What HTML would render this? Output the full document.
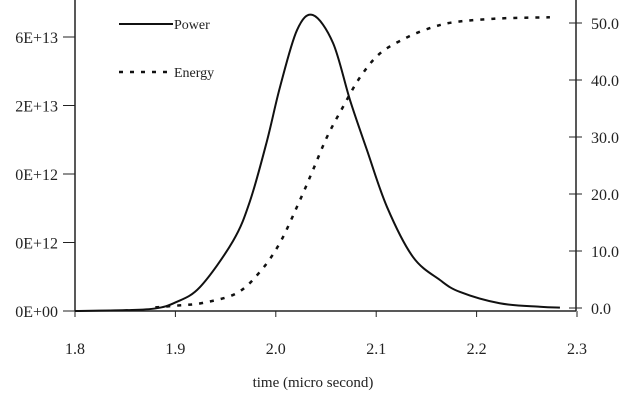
<!DOCTYPE html>
<html><head><meta charset="utf-8"><style>
body{margin:0;background:#fff}
svg text{font-family:"Liberation Serif",serif;fill:#222}
</style></head><body>
<svg id="c" width="640" height="400" viewBox="0 0 640 400" xmlns="http://www.w3.org/2000/svg"></svg>
<script>
const xTicks=[1.8,1.9,2.0,2.1,2.2,2.3];
const xTickLabels=["1.8","1.9","2.0","2.1","2.2","2.3"];
const leftTicks=[0,4,8,12,16];
const leftTickLabels=["0E+00","0E+12","0E+12","2E+13","6E+13"];
const rightTicks=[0,10,20,30,40,50];
const rightTickLabels=["0.0","10.0","20.0","30.0","40.0","50.0"];
const powerT=[1.8,1.85,1.88,1.9,1.9245,1.9574,1.9743,1.9912,2.0042,2.0211,2.037,2.057,2.0739,2.0908,2.1108,2.1367,2.1635,2.1835,2.223,2.263,2.283];
const powerV=[0,0.05,0.15,0.5,1.4,4.09,6.42,9.93,13.08,16.4,17.28,15.65,12.32,9.4,6.07,3.15,1.81,1.11,0.45,0.25,0.2];
const energyT=[1.88,1.9,1.9275,1.961,1.984,2.004,2.024,2.037,2.051,2.067,2.084,2.104,2.131,2.157,2.18,2.223,2.273];
const energyV=[0.1,0.4,0.9,2.6,6.3,11.4,18.9,24.2,30,35.3,40.5,44.7,47.5,49.3,50.2,50.8,51];

const svg=document.getElementById('c');
const NS='http://www.w3.org/2000/svg';
const X=t=>75+(t-1.8)*1004;
const YL=v=>311-v*17.125;
const YR=v=>308-v*5.7;
function mk(tag,attrs,parent){const e=document.createElementNS(NS,tag);for(const k in attrs)e.setAttribute(k,attrs[k]);(parent||svg).appendChild(e);return e;}

let e;
e=mk('line',{x1:75,y1:0,x2:75,y2:311,stroke:'#222','stroke-width':1.5});


e=mk('line',{x1:576,y1:0,x2:576,y2:311,stroke:'#222','stroke-width':1.5});


e=mk('line',{x1:75,y1:311,x2:576,y2:311,stroke:'#222','stroke-width':1.5});



xTicks.forEach((t,i)=>{
  e=mk('line',{x1:X(t),y1:311,x2:X(t),y2:317,stroke:'#222'});
  
  
  e=mk('text',{x:X(t),y:354,'text-anchor':'middle','font-size':16});
  e.textContent=xTickLabels[i];
  
  
});
leftTicks.forEach((v,i)=>{
  e=mk('line',{x1:63,y1:YL(v),x2:75,y2:YL(v),stroke:'#222'});
  
  
  e=mk('text',{x:58,y:YL(v)+6,'text-anchor':'end','font-size':16});
  e.textContent=leftTickLabels[i];
  
  
});
rightTicks.forEach((v,i)=>{
  e=mk('line',{x1:569,y1:YR(v),x2:582,y2:YR(v),stroke:'#222'});
  
  
  e=mk('text',{x:591,y:YR(v)+6,'font-size':16});
  e.textContent=rightTickLabels[i];
  
  
});
e=mk('text',{x:313,y:387,'text-anchor':'middle','font-size':15});
e.textContent='time (micro second)';



function smooth(pts){let d='M'+pts[0][0]+','+pts[0][1];for(let i=0;i<pts.length-1;i++){const p0=pts[i-1]||pts[i],p1=pts[i],p2=pts[i+1],p3=pts[i+2]||p2;d+=' C'+(p1[0]+(p2[0]-p0[0])/6)+','+(p1[1]+(p2[1]-p0[1])/6)+' '+(p2[0]-(p3[0]-p1[0])/6)+','+(p2[1]-(p3[1]-p1[1])/6)+' '+p2[0]+','+p2[1];}return d;}
e=mk('path',{d:smooth(powerT.map((t,i)=>[X(t),YL(powerV[i])])),fill:'none',stroke:'#111','stroke-width':2});


e=mk('path',{d:smooth(energyT.map((t,i)=>[X(t),YR(energyV[i])])),fill:'none',stroke:'#111','stroke-width':2.5,'stroke-dasharray':'4,7'});



e=mk('line',{x1:119,y1:24,x2:173,y2:24,stroke:'#111','stroke-width':2});


e=mk('text',{x:174,y:29,'font-size':14});
e.textContent='Power';


e=mk('line',{x1:119,y1:72,x2:173,y2:72,stroke:'#111','stroke-width':2.5,'stroke-dasharray':'4,7'});


e=mk('text',{x:174,y:77,'font-size':14});
e.textContent='Energy';


</script>
</body></html>
